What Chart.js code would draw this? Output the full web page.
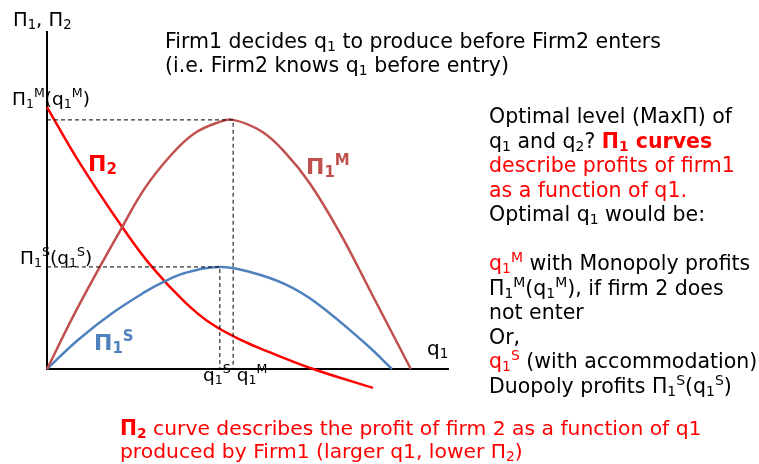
<!DOCTYPE html>
<html>
<head>
<meta charset="utf-8">
<script src="https://cdn.jsdelivr.net/npm/chart.js@4.4.0/dist/chart.umd.min.js"></script>
<style>
  html, body { margin: 0; padding: 0; background: #fff; }
  #wrap { position: relative; width: 759px; height: 464px; overflow: hidden;
          font-family: "DejaVu Sans", Verdana, sans-serif; color: #000; }
  canvas { position: absolute; left: 0; top: 0; }
  .t { position: absolute; white-space: nowrap; font-size: 18.5px; line-height: 1; }
  .t sub, .t sup { font-size: 0.68em; line-height: 0; }
  .t sub { vertical-align: -0.22em; }
  .t sup { vertical-align: 0.6em; }
  .red { color: #ff0000; }
  .brown { color: #c0504d; }
  .blue { color: #4f81bd; }
  .lbl { font-weight: bold; font-size: 22px; }
</style>
</head>
<body>
<div id="wrap">
  <canvas id="chart" width="759" height="464"></canvas>

  <div class="t" style="left:13px;top:10px;font-size:19.5px">Π<sub>1</sub>, Π<sub>2</sub></div>
  <div class="t" style="left:165px;top:29px;font-size:20.5px;line-height:24px">
    Firm1 decides q<sub>1</sub> to produce before Firm2 enters<br>
    (i.e. Firm2 knows q<sub>1</sub> before entry)
  </div>
  <div class="t" style="left:12px;top:90px">Π<sub>1</sub><sup>M</sup>(q<sub>1</sub><sup>M</sup>)</div>
  <div class="t" style="left:20px;top:249px">Π<sub>1</sub><sup>S</sup>(q<sub>1</sub><sup>S</sup>)</div>
  <div class="t" style="left:203px;top:366px">q<sub>1</sub><sup>S</sup> q<sub>1</sub><sup>M</sup></div>
  <div class="t" style="left:427px;top:338px;font-size:20px">q<sub>1</sub></div>

  <div class="t lbl red" style="left:88px;top:153px">Π<sub>2</sub></div>
  <div class="t lbl brown" style="left:306px;top:156px">Π<sub>1</sub><sup>M</sup></div>
  <div class="t lbl blue" style="left:94px;top:332px">Π<sub>1</sub><sup>S</sup></div>

  <div class="t" style="left:489px;top:104px;font-size:20.5px;line-height:24.5px">
    Optimal level (MaxΠ) of<br>
    q<sub>1</sub> and q<sub>2</sub>? <b class="red">Π<sub>1</sub> curves</b><br>
    <span class="red">describe profits of firm1</span><br>
    <span class="red">as a function of q1.</span><br>
    Optimal q<sub>1</sub> would be:<br>
    &nbsp;<br>
    <span class="red">q<sub>1</sub><sup>M</sup></span> with Monopoly profits<br>
    Π<sub>1</sub><sup>M</sup>(q<sub>1</sub><sup>M</sup>), if firm 2 does<br>
    not enter<br>
    Or,<br>
    <span class="red">q<sub>1</sub><sup>S</sup></span> (with accommodation)<br>
    Duopoly profits Π<sub>1</sub><sup>S</sup>(q<sub>1</sub><sup>S</sup>)
  </div>

  <div class="t red" style="left:120px;top:417px;font-size:20.3px;line-height:22.5px">
    <b>Π<sub>2</sub></b> curve describes the profit of firm 2 as a function of q1<br>
    produced by Firm1 (larger q1, lower Π<sub>2</sub>)
  </div>
</div>

<script>
// firm 1 profit, monopoly (no entry)
const qM  = [0, 7.7, 18.7, 24.4, 31.1, 36.8, 42.5, 46.3, 53.5, 59.2, 65.4, 72.9, 80.8, 90.5];
const piM = [0, 18.3, 42.0, 53.6, 63.6, 69.8, 72.9, 73.7, 70.2, 64.1, 54.9, 40.2, 22.2, 0];

// firm 1 profit, Stackelberg (accommodation)
const qS  = [0, 7.7, 16.2, 24.4, 28.9, 34.3, 43.0, 50.5, 59.2, 67.2, 79.6, 85.8];
const piS = [0, 8.6, 16.5, 22.8, 25.7, 28.4, 30.2, 28.7, 25.1, 19.4, 7.1, 0];

// firm 2 profit as a function of q1
const q2  = [0, 7.7, 18.7, 26.1, 34.3, 41.0, 49.3, 55.5, 66.2, 81.1];
const pi2 = [77.5, 61.8, 42.0, 30.2, 19.8, 13.3, 8.0, 4.9, 0, -5.6];

const toPoints = (xs, ys) => xs.map((x, i) => ({ x: x, y: ys[i] }));

// dashed guides to each maximum
const guide = (xs, ys) => {
  const i = ys.indexOf(Math.max(...ys));
  return [{ x: 0, y: ys[i] }, { x: xs[i], y: ys[i] }, { x: xs[i], y: 0 }];
};

const axesPlugin = {
  id: 'axes',
  beforeDatasetsDraw(chart) {
    const { ctx, chartArea } = chart;
    ctx.save();
    ctx.strokeStyle = '#000';
    ctx.lineWidth = 2;
    ctx.beginPath();
    ctx.moveTo(chartArea.left, chartArea.top);
    ctx.lineTo(chartArea.left, chartArea.bottom + 1);
    ctx.moveTo(chartArea.left - 1, chartArea.bottom);
    ctx.lineTo(chartArea.right, chartArea.bottom);
    ctx.stroke();
    ctx.restore();
  }
};

const curve = (data, color) => ({
  data: data,
  borderColor: color,
  borderWidth: 2.5,
  pointRadius: 0,
  tension: 0.4,
  fill: false,
  clip: false
});

const dashed = (data) => ({
  data: data,
  borderColor: '#000',
  borderWidth: 1,
  borderDash: [4, 3],
  pointRadius: 0,
  tension: 0,
  fill: false,
  clip: false
});

new Chart(document.getElementById('chart'), {
  type: 'line',
  data: {
    datasets: [
      dashed(guide(qM, piM)),
      dashed(guide(qS, piS)),
      curve(toPoints(qM, piM), '#c0504d'),
      curve(toPoints(qS, piS), '#4f81bd'),
      curve(toPoints(q2, pi2), '#ff0000')
    ]
  },
  options: {
    responsive: false,
    devicePixelRatio: 1,
    animation: false,
    layout: { padding: { left: 47, top: 31, right: 310, bottom: 95 } },
    plugins: { legend: { display: false }, tooltip: { enabled: false } },
    scales: {
      x: { type: 'linear', min: 0, max: 100, display: false },
      y: { type: 'linear', min: 0, max: 100, display: false }
    }
  },
  plugins: [axesPlugin]
});
</script>
</body>
</html>
